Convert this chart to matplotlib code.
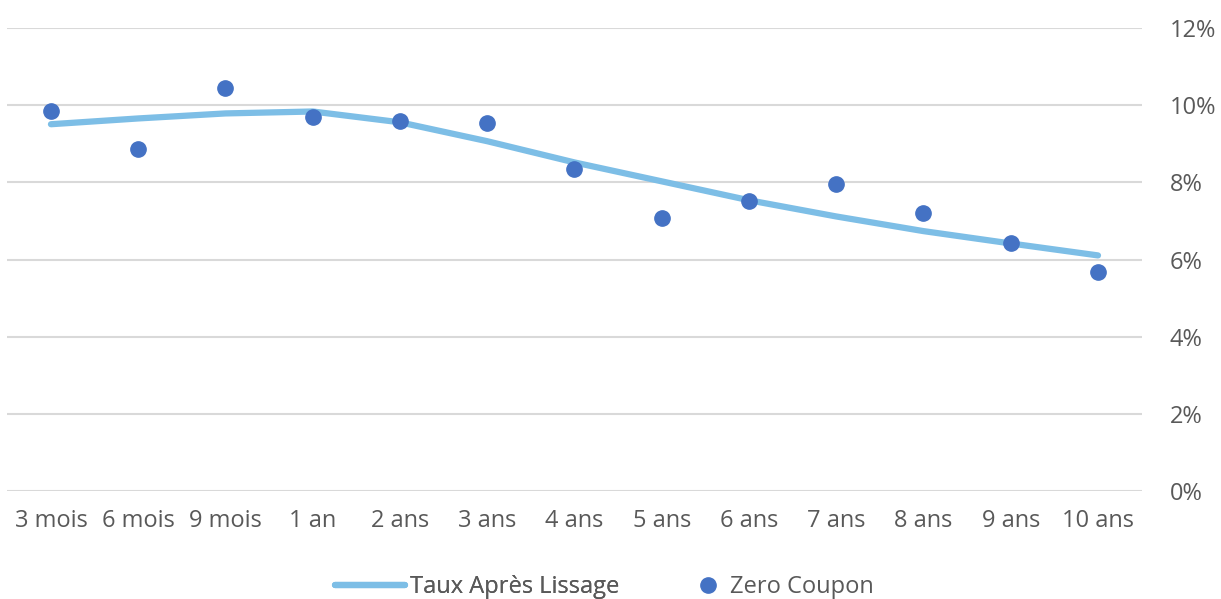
import matplotlib.pyplot as plt
from matplotlib.ticker import FuncFormatter

# échéances et taux (en %)
maturites = ['3 mois', '6 mois', '9 mois', '1 an', '2 ans', '3 ans', '4 ans',
             '5 ans', '6 ans', '7 ans', '8 ans', '9 ans', '10 ans']
taux_lisse = [9.51, 9.66, 9.79, 9.84, 9.56, 9.07, 8.52, 8.03, 7.54, 7.12, 6.74, 6.42, 6.11]
zero_coupon = [9.84, 8.86, 10.44, 9.69, 9.59, 9.53, 8.34, 7.07, 7.51, 7.95, 7.20, 6.42, 5.67]

plt.rcParams['font.family'] = ['Open Sans', 'DejaVu Sans']
gris = '#595959'
fs = 17

fig = plt.figure(figsize=(12.21, 5.99), dpi=100)
ax = fig.add_axes([0.006, 0.180, 0.929, 0.773])

x = list(range(len(maturites)))
ligne, = ax.plot(x, taux_lisse, color='#7DBEE6', lw=4.5, solid_capstyle='round',
                 label='Taux Après Lissage', zorder=2)
points, = ax.plot(x, zero_coupon, 'o', color='#4472C4', ms=11, label='Zero Coupon', zorder=3)

ax.set_xlim(-0.5, len(maturites) - 0.5)
ax.set_ylim(0, 12)
ax.set_yticks(range(0, 13, 2))
ax.yaxis.set_major_formatter(FuncFormatter(lambda v, p: f'{v:.0f}%'))
ax.yaxis.tick_right()
ax.set_xticks(x)
ax.set_xticklabels(maturites)
ax.tick_params(axis='both', length=0, labelsize=fs, labelcolor=gris)
ax.tick_params(axis='x', pad=13)
ax.tick_params(axis='y', pad=20)
ax.grid(axis='y', color='#D9D9D9', lw=1.5)
ax.set_axisbelow(True)
for s in ax.spines.values():
    s.set_visible(False)

# légende en deux morceaux (comme dans Excel)
leg1 = fig.legend([ligne], ['Taux Après Lissage'], loc='center left',
                  bbox_to_anchor=(0.274, 0.020), frameon=False, fontsize=fs,
                  handlelength=3.0, handletextpad=0.2, borderpad=0, borderaxespad=0)
leg2 = fig.legend([points], ['Zero Coupon'], loc='center left',
                  bbox_to_anchor=(0.570, 0.020), frameon=False, fontsize=fs,
                  handlelength=1.0, handletextpad=0.45, borderpad=0, borderaxespad=0)
fig.add_artist(leg1)
for leg in (leg1, leg2):
    for t in leg.get_texts():
        t.set_color(gris)

fig.savefig('out.png', dpi=100)
